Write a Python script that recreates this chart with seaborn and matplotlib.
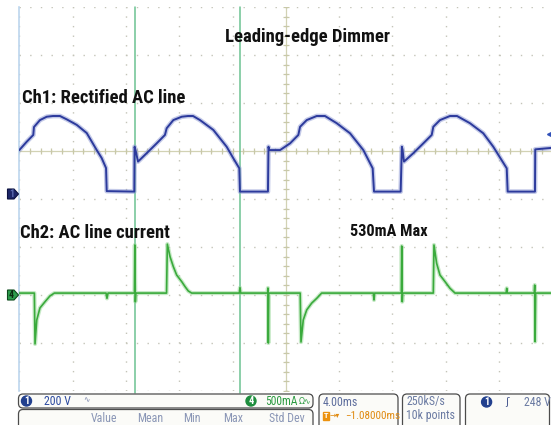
import numpy as np
import matplotlib
matplotlib.use("Agg")
import matplotlib.pyplot as plt
from matplotlib import font_manager as fm
from matplotlib.patches import FancyBboxPatch, Circle, Polygon, Rectangle
import seaborn as sns

# ---------------------------------------------------------------- data
# Channel 1: rectified AC line voltage (time in ms from left graticule edge, volts)
ch1_time_ms = [0.00, 0.56, 1.05, 1.10, 1.55, 2.06, 2.53, 3.05, 3.56, 4.31, 5.06, 5.81,
               6.18, 6.51, 6.56, 8.63, 8.65, 8.72, 8.91, 9.56, 10.31, 10.93, 11.06,
               11.56, 12.19, 12.66, 13.04, 13.56, 14.56, 15.56, 16.06, 16.51, 16.56,
               18.66, 18.70, 18.76, 19.57, 20.32, 20.94, 21.07, 21.57, 22.32, 22.94,
               23.82, 24.82, 25.82, 26.52, 26.62, 28.62, 28.71, 28.76, 28.87, 29.57,
               30.32, 30.95, 31.07, 31.57, 32.32, 32.85, 33.82, 34.82, 35.57, 36.58,
               36.65, 38.70, 38.72, 39.91]
ch1_volts = [183, 218, 246, 279, 308, 322, 325, 325, 311, 288, 254, 183,
             150, 108, 12, 10, 197, 183, 135, 170, 211, 246, 274,
             308, 322, 325, 325, 308, 267, 197, 149, 107, 10,
             10, 197, 183, 183, 211, 246, 280, 308, 325, 325,
             295, 253, 183, 107, 10, 10, 197, 183, 135, 170,
             211, 246, 280, 308, 325, 325, 295, 253, 197, 107,
             10, 10, 186, 192]

# Channel 2: AC line current (time in ms, milliamps)
ch2_time_ms = [0.00, 1.13, 1.18, 1.31, 1.55, 1.93, 2.30, 2.63, 6.51, 6.58, 6.66,
               8.64, 8.67, 8.71, 8.74, 11.05, 11.11, 11.31, 11.56, 11.81, 12.19,
               12.44, 12.68, 12.94, 16.51, 16.56, 16.62, 18.63, 18.66, 18.69, 18.72,
               21.08, 21.14, 21.31, 21.57, 21.94, 22.32, 22.69, 26.57, 26.62, 26.67,
               28.67, 28.70, 28.74, 28.77, 31.07, 31.12, 31.32, 31.57, 31.95, 32.32,
               32.70, 36.53, 36.58, 36.63, 38.65, 38.68, 38.71, 38.75, 39.91]
ch2_milliamps = [20, 20, -510, -260, -135, -70, -10, 20, 20, -35, 20,
                 20, 520, -70, 20, 20, 530, 400, 295, 208, 139,
                 87, 42, 20, 20, 75, 20, 20, 73, -500, 20,
                 20, -490, -260, -155, -85, -35, 20, 20, -52, 20,
                 20, 510, -70, 20, 20, 521, 330, 208, 139, 70,
                 20, 20, 70, 20, 20, 104, -486, 20, 20]

cursor_time_ms = [8.68, 16.56]
trigger_level_v = 248

title_text = "Leading-edge Dimmer"
ch1_text = "Ch1: Rectified AC line"
ch2_text = "Ch2: AC line current"
stat_labels = ["Value", "Mean", "Min", "Max", "Std Dev"]

# scope settings
time_per_div_ms = 4.0
volts_per_div = 200
ma_per_div = 500
n_hdiv, n_vdiv = 10, 8

# ---------------------------------------------------------------- fonts
def narrow_font(bold):
    """Pick an installed condensed sans face; fall back to Liberation Sans."""
    prefs = ["liberation sans narrow", "arial narrow", "roboto condensed",
             "open sans condensed", "dejavu sans", "noto sans"]
    want = 700 if bold else 400
    best, best_score = None, None
    for f in fm.fontManager.ttflist:
        if str(f.stretch) not in ("condensed", "semi-condensed", "extra-condensed"):
            continue
        name = f.name.lower()
        if "mono" in name or ("serif" in name and "sans" not in name):
            continue
        if f.style != "normal":
            continue
        w = f.weight if isinstance(f.weight, int) else fm.weight_dict.get(f.weight, 400)
        rank = next((i for i, p in enumerate(prefs) if name.startswith(p)), len(prefs))
        score = abs(w - want) / 100 + rank * 10
        if best_score is None or score < best_score:
            best, best_score = f, score
    if best is not None:
        return fm.FontProperties(fname=best.fname), 1.0
    return fm.FontProperties(family="Liberation Sans",
                             weight="bold" if bold else "normal"), 0.84


FP_BOLD, SCALE_B = narrow_font(True)
FP_REG, SCALE_R = narrow_font(False)
SYM = fm.FontProperties(family="DejaVu Sans")

# ---------------------------------------------------------------- layout
W, H = 551, 425
GRID_L, GRID_B = 19.3, 391          # graticule left / bottom edge (px)
DIV_W, DIV_H = 53.3, 48.0           # one division (px)
CH1_GND, CH2_GND = 194, 295         # ground reference rows (px)

sns.set_theme(style="white")
plt.rcParams["font.family"] = ["DejaVu Sans"]

fig = plt.figure(figsize=(W / 100, H / 100), dpi=100)
fig.patch.set_facecolor("white")

ax = fig.add_axes([GRID_L / W, (H - GRID_B) / H,
                   n_hdiv * DIV_W / W, n_vdiv * DIV_H / H])
ax.set_xlim(0, n_hdiv * time_per_div_ms)
ax.set_ylim(0, n_vdiv)
ax.set_facecolor("white")
for side in ("top", "right", "bottom"):
    ax.spines[side].set_visible(False)
ax.spines["left"].set_color("#bcd6ee")
ax.spines["left"].set_linewidth(1.2)

# dotted graticule
ax.set_xticks(np.arange(0, n_hdiv * time_per_div_ms + 0.1, time_per_div_ms))
ax.set_yticks(np.arange(0, n_vdiv + 0.1, 1))
ax.tick_params(length=0, labelbottom=False, labelleft=False)
ax.xaxis.grid(True, color="#c4c4b8", linewidth=1.0, linestyle=(0, (1, 5.9)))
ax.yaxis.grid(True, color="#c4c4b8", linewidth=1.0, linestyle=(0, (1, 6.68)))
ax.set_axisbelow(True)

# centre lines with minor ticks
cx = n_hdiv * time_per_div_ms / 2
cy = 5
ax.axvline(cx, color="#d2d2b4", lw=0.9, zorder=1)
ax.axhline(cy, color="#d2d2b4", lw=0.9, zorder=1)
ax.plot(np.full(41, cx), np.linspace(0, n_vdiv, 41), ls="none", marker="_",
        ms=5, mew=0.9, color="#c8c8a8", zorder=1)
ax.plot(np.linspace(0, n_hdiv * time_per_div_ms, 51), np.full(51, cy), ls="none",
        marker="|", ms=5, mew=0.9, color="#c8c8a8", zorder=1)

# cursors
for t in cursor_time_ms:
    ax.axvline(t, ymin=-0.005, ymax=1, color="#6cc292", lw=1.1, zorder=2, clip_on=False)

# trace axes with the scope's vertical scales
g1 = (GRID_B - CH1_GND) / DIV_H
g2 = (GRID_B - CH2_GND) / DIV_H
ax_v = ax.twinx()
ax_v.set_ylim(-g1 * volts_per_div, (n_vdiv - g1) * volts_per_div)
ax_v.set_axis_off()
ax_i = ax.twinx()
ax_i.set_ylim(-g2 * ma_per_div, (n_vdiv - g2) * ma_per_div)
ax_i.set_axis_off()

CH1_COL, CH2_COL = "#2c3a9c", "#3aaa3c"
sns.lineplot(x=ch1_time_ms, y=ch1_volts, ax=ax_v, estimator=None, sort=False,
             color="#8a96d2", linewidth=3.4, alpha=0.5)
sns.lineplot(x=ch1_time_ms, y=ch1_volts, ax=ax_v, estimator=None, sort=False,
             color=CH1_COL, linewidth=1.4)
sns.lineplot(x=ch2_time_ms, y=ch2_milliamps, ax=ax_i, estimator=None, sort=False,
             color="#8ed48e", linewidth=3.0, alpha=0.5)
sns.lineplot(x=ch2_time_ms, y=ch2_milliamps, ax=ax_i, estimator=None, sort=False,
             color=CH2_COL, linewidth=1.2)
for a in (ax_v, ax_i):
    a.set_xlim(0, n_hdiv * time_per_div_ms)

# trigger level marker at right edge
ax_v.plot([n_hdiv * time_per_div_ms - 0.2], [trigger_level_v], marker="<", ms=5,
          color="#3050b8", clip_on=False)

# ---------------------------------------------------------------- annotations
def fx(x):
    return x / W


def fy(y):
    return 1 - y / H


def label(x, y, s, size):
    fig.text(fx(x), fy(y), s, fontproperties=FP_BOLD, fontsize=size * SCALE_B,
             color="#111111")


label(225, 42, title_text, 13.4)
label(21.5, 103, ch1_text, 13.4)
label(20.5, 238, ch2_text, 13.4)
label(350, 236, f"{max(ch2_milliamps)}mA Max", 11.7)

# channel ground flags
inch = fig.dpi_scale_trans


def pin(x, y):
    return (x / 100, (H - y) / 100)


def flag(y, face, edge, text, tcolor):
    pts = [pin(7.5, y - 5), pin(14, y - 5), pin(18.5, y), pin(14, y + 5), pin(7.5, y + 5)]
    fig.add_artist(Polygon(pts, closed=True, transform=inch, fc=face, ec=edge, lw=0.8))
    fig.text(fx(11.5), fy(y), text, fontsize=7 * SCALE_B, color=tcolor, ha="center",
             va="center", fontproperties=FP_BOLD)


flag(CH1_GND, "#1c2668", "#0c1240", "1", "#5a6ab0")
flag(CH2_GND, "#2c9c4c", "#0c4a1c", "4", "#0a2a10")

# ---------------------------------------------------------------- status bar
def box(x0, y0, x1, y1):
    (ax0, ay1), (ax1, ay0) = pin(x0, y0), pin(x1, y1)
    fig.add_artist(FancyBboxPatch((ax0, ay0), ax1 - ax0, ay1 - ay0,
                                  boxstyle="round,pad=0,rounding_size=0.045",
                                  transform=inch, fc="#fbfbf8", ec="#4c4c4c", lw=0.9))


def badge(x, y, face, text):
    fig.add_artist(Circle(pin(x, y), 0.05, transform=inch, fc=face, ec=face))
    fig.text(fx(x), fy(y), text, color="white", ha="center", va="center",
             fontproperties=FP_BOLD, fontsize=7.5 * SCALE_B)


def stext(x, y, s, color, size=8.6, ha="left", fp=None):
    fp = FP_REG if fp is None else fp
    sc = SCALE_R if fp is FP_REG else 1.0
    fig.text(fx(x), fy(y), s, fontproperties=fp, fontsize=size * sc, color=color,
             ha=ha, va="center")


box(18.5, 394, 313, 408)
box(18.5, 409.5, 313, 434)
box(319, 394, 398, 434)
box(402.5, 394, 460, 434)
box(465.5, 394, 549.5, 434)

badge(26.5, 401, "#22408e", "1")
stext(44.5, 401.5, "200 V", "#2c4aa0")
stext(83, 399.5, "∿", "#7a86ac", size=5.5, fp=SYM)
badge(251, 401, "#1e8e3e", "4")
stext(265.5, 401.5, "500mA", "#2a9a40", size=8.3)
stext(298.5, 401.5, "Ω∿", "#2a9a40", size=5.6, fp=SYM)

stat_x = [103.7, 150, 192, 233.6, 286.7]
for sx, lab in zip(stat_x, stat_labels):
    stext(sx, 418.5, lab, "#8a96b6", ha="center")

stext(322.5, 402, f"{time_per_div_ms:.2f}ms", "#5c6c9c")
fig.add_artist(Rectangle(pin(322.5, 420), 0.065, 0.085, transform=inch,
                         fc="#ec920e", ec="#ec920e"))
fig.text(fx(325.8), fy(415.8), "T", color="white", ha="center", va="center",
         fontproperties=FP_BOLD, fontsize=6 * SCALE_B)
stext(330, 416, "→▾", "#e08a10", size=5.5, fp=SYM)
stext(345, 416, "−1.08000ms", "#e08a10", size=8.0)

stext(406.5, 402, "250kS/s", "#6a7aa2")
stext(406.5, 416, "10k points", "#6a7aa2")

badge(486.6, 402, "#22408e", "1")
stext(505, 402, "ʃ", "#4a5a90", size=7.5, fp=SYM)
stext(523.5, 402, f"{trigger_level_v} V", "#6a7aa2")

fig.savefig("out.png", dpi=100, facecolor="white")
